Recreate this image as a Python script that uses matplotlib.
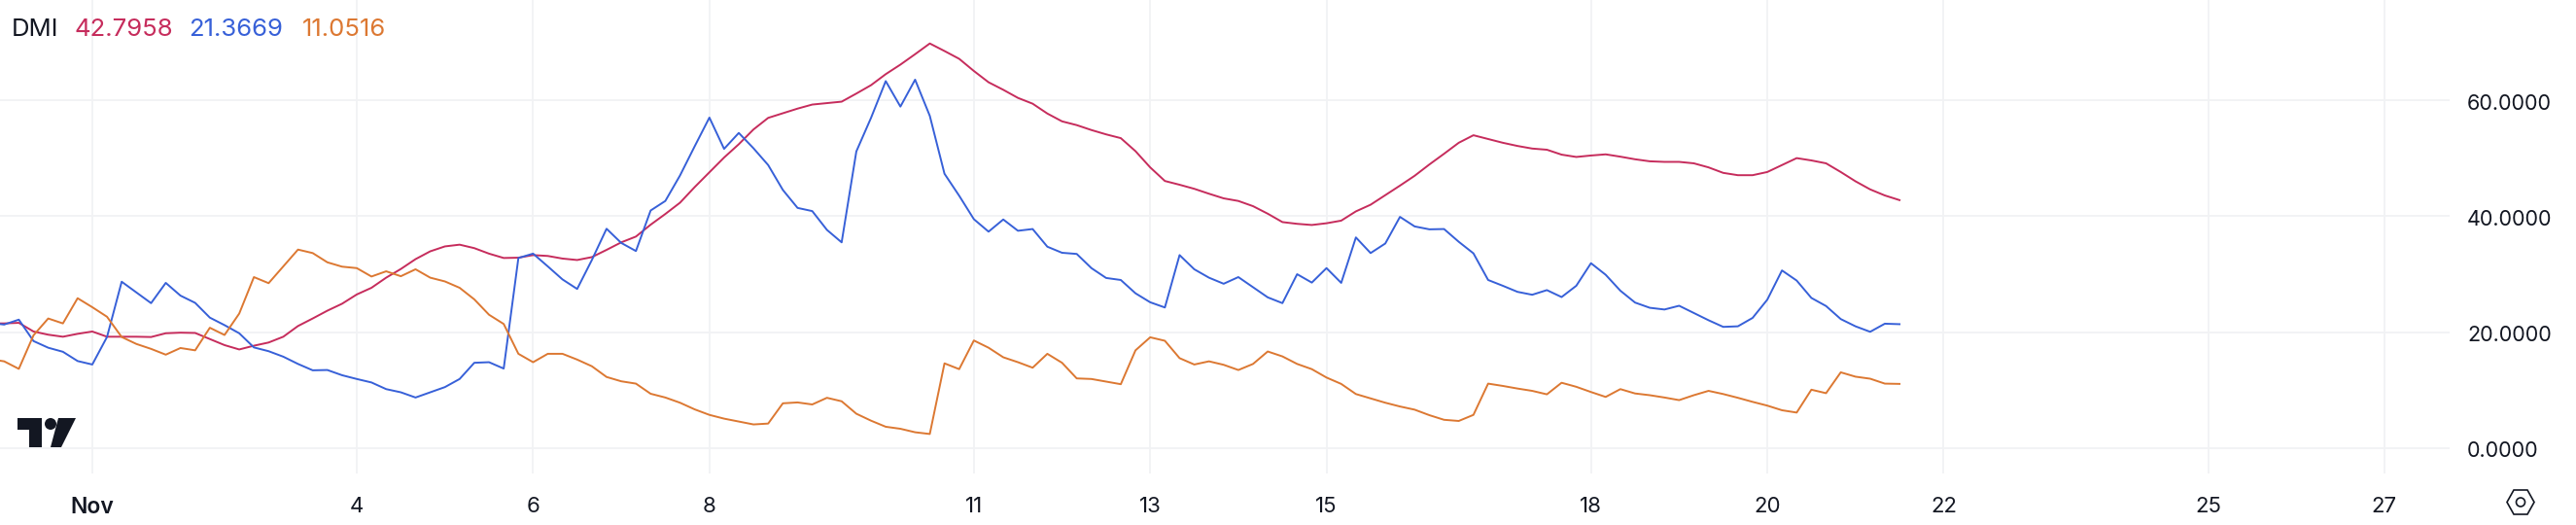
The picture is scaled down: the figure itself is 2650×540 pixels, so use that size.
import numpy as np
import matplotlib
matplotlib.use('Agg')
import matplotlib.pyplot as plt
from matplotlib.patches import Polygon, Ellipse
from matplotlib.transforms import ScaledTranslation

plt.rcParams['font.family'] = ['Inter', 'DejaVu Sans']

# DMI values, one every 4 hours, first point just off the left edge
adx = [21.5, 21.5, 21.6, 20.1, 19.55, 19.2, 19.7, 20.1, 19.2, 19.2, 19.2, 19.15, 19.8, 19.9, 19.85, 18.8, 17.75, 17.0,
       17.65, 18.2, 19.2, 21.05, 22.35, 23.7, 24.9, 26.5, 27.65, 29.4, 30.9, 32.6, 33.95, 34.8, 35.1, 34.5, 33.55, 32.8,
       32.85, 33.3, 33.15, 32.7, 32.45, 32.95, 34.2, 35.5, 36.5, 38.55, 40.4, 42.35, 45.05, 47.6, 50.15, 52.45, 55.0, 57.0,
       57.8, 58.6, 59.3, 59.55, 59.8, 61.2, 62.65, 64.55, 66.2, 68.0, 69.85, 68.55, 67.2, 65.1, 63.15, 61.85, 60.45, 59.45,
       57.75, 56.4, 55.75, 54.9, 54.15, 53.5, 51.25, 48.45, 46.1, 45.45, 44.75, 43.9, 43.1, 42.65, 41.75, 40.45, 39.0, 38.7,
       38.5, 38.8, 39.25, 40.85, 42.0, 43.65, 45.3, 47.0, 48.95, 50.8, 52.7, 54.0, 53.35, 52.7, 52.15, 51.7, 51.5, 50.65,
       50.25, 50.5, 50.7, 50.3, 49.85, 49.5, 49.4, 49.4, 49.15, 48.45, 47.5, 47.1, 47.1, 47.65, 48.85, 50.05, 49.65, 49.15,
       47.65, 46.05, 44.65, 43.6, 42.7958]
plus_di = [21.6, 21.3, 22.15, 18.45, 17.3, 16.6, 15.0, 14.4, 19.15, 28.7, 26.85, 25.0, 28.5, 26.3, 25.05, 22.5, 21.2, 19.8,
           17.35, 16.7, 15.75, 14.5, 13.4, 13.45, 12.55, 11.9, 11.3, 10.15, 9.6, 8.7, 9.6, 10.5, 11.9, 14.7, 14.8, 13.7,
           32.8, 33.55, 31.35, 29.1, 27.45, 32.45, 37.85, 35.4, 34.0, 41.0, 42.65, 47.05, 52.1, 57.05, 51.65, 54.4, 51.75, 48.85,
           44.55, 41.45, 40.9, 37.65, 35.5, 51.2, 57.0, 63.35, 58.95, 63.6, 57.35, 47.35, 43.55, 39.5, 37.35, 39.45, 37.5, 37.8,
           34.75, 33.7, 33.5, 31.05, 29.35, 29.0, 26.7, 25.15, 24.25, 33.3, 30.85, 29.4, 28.35, 29.5, 27.75, 26.0, 25.0, 30.0,
           28.55, 31.05, 28.5, 36.35, 33.65, 35.3, 39.9, 38.25, 37.75, 37.8, 35.6, 33.6, 29.0, 28.0, 26.95, 26.45, 27.25, 26.05,
           28.0, 31.9, 29.9, 27.15, 25.1, 24.2, 23.9, 24.55, 23.3, 22.05, 20.9, 21.0, 22.45, 25.6, 30.65, 28.9, 25.9, 24.5,
           22.25, 21.0, 20.05, 21.45, 21.3669]
minus_di = [15.35, 14.95, 13.65, 19.45, 22.35, 21.5, 25.85, 24.3, 22.65, 19.15, 17.95, 17.1, 16.1, 17.25, 16.85, 20.75, 19.5, 23.2,
            29.5, 28.45, 31.35, 34.25, 33.65, 32.05, 31.3, 31.05, 29.6, 30.5, 29.65, 30.85, 29.4, 28.75, 27.65, 25.65, 23.0, 21.4,
            16.25, 14.8, 16.25, 16.25, 15.25, 14.1, 12.25, 11.5, 11.1, 9.35, 8.7, 7.8, 6.65, 5.7, 5.05, 4.55, 4.05, 4.2,
            7.7, 7.85, 7.5, 8.65, 8.05, 5.9, 4.7, 3.65, 3.3, 2.7, 2.4, 14.6, 13.6, 18.55, 17.3, 15.65, 14.8, 13.85,
            16.25, 14.7, 12.0, 11.9, 11.45, 11.0, 16.85, 19.1, 18.5, 15.5, 14.4, 14.95, 14.35, 13.45, 14.5, 16.65, 15.8, 14.5,
            13.6, 12.15, 11.05, 9.3, 8.55, 7.8, 7.15, 6.6, 5.65, 4.85, 4.65, 5.7, 11.1, 10.7, 10.25, 9.85, 9.25, 11.25,
            10.55, 9.65, 8.8, 10.15, 9.4, 9.1, 8.7, 8.25, 9.1, 9.85, 9.3, 8.65, 7.95, 7.3, 6.5, 6.1, 10.05, 9.45,
            13.05, 12.3, 11.95, 11.1, 11.0516]

day_ticks = [1, 4, 6, 8, 11, 13, 15, 18, 20, 22, 25, 27]
day_labels = ['Nov', '4', '6', '8', '11', '13', '15', '18', '20', '22', '25', '27']
value_ticks = [0, 20, 40, 60]
legend_labels = ['42.7958', '21.3669', '11.0516']

RED = '#C62C5C'
BLUE = '#3760D8'
ORANGE = '#DC7832'
INK = '#131722'
GRID = '#F1F2F4'

W, H = 2650, 540

fig = plt.figure(figsize=(W / 100, H / 100), dpi=100)
ax = fig.add_axes([0, (H - 487) / H, 2520 / W, 487 / H])

def px(x, y):
    # picture pixels (origin top left) to figure fractions
    return (x / W, 1 - y / H)

days = np.arange(len(adx)) / 6 - 1 / 6
ax.plot(days, adx, color=RED, lw=1.4, zorder=3, solid_joinstyle='round')
ax.plot(days, plus_di, color=BLUE, lw=1.4, zorder=4, solid_joinstyle='round')
ax.plot(days, minus_di, color=ORANGE, lw=1.4, zorder=5, solid_joinstyle='round')

ax.set_xlim(-0.047, 27.74)
ax.set_ylim(-4.42, 77.36)

ax.set_xticks(day_ticks)
ax.set_xticklabels(day_labels, fontsize=16, color=INK)
ax.get_xticklabels()[0].set_fontweight('semibold')
ax.get_xticklabels()[0].set_fontsize(16.5)
ax.set_yticks(value_ticks)
ax.set_yticklabels([f'{v:.4f}' for v in value_ticks], fontsize=15.5, color=INK)
ax.yaxis.tick_right()
ax.tick_params(axis='x', length=0, pad=17)
ax.tick_params(axis='y', length=0, pad=13)
ax.grid(True, color=GRID, lw=1.3, zorder=0)
ax.set_axisbelow(True)
for s in ax.spines.values():
    s.set_visible(False)
nudge = ScaledTranslation(0, -1.0 / 72, fig.dpi_scale_trans)
for lab in ax.get_yticklabels(which='major'):
    lab.set_transform(lab.get_transform() + nudge)

# legend row
fig.text(*px(12, 37), 'DMI', fontsize=18.5, color=INK, va='baseline')
for x, label, col in zip([76, 194, 311], legend_labels, [RED, BLUE, ORANGE]):
    fig.text(*px(x, 37), label, fontsize=18.5, color=col, va='baseline')

# TradingView logo
logo = '#131722'
fig.add_artist(Polygon([px(18, 430), px(42.5, 430), px(42.5, 460), px(30, 460), px(30, 442), px(18, 442)],
                       closed=True, fc=logo, ec='none', transform=fig.transFigure))
cx, cy = px(52, 436)
fig.add_artist(Ellipse((cx, cy), 12 / W, 12 / H, fc=logo, ec='none', transform=fig.transFigure))
fig.add_artist(Polygon([px(60, 430), px(78, 430), px(63, 460), px(52, 460)],
                       closed=True, fc=logo, ec='none', transform=fig.transFigure))

# settings icon
hx, hy = 2593, 516.5
fig.add_artist(Polygon([px(hx - 14, hy), px(hx - 7, hy - 12.5), px(hx + 7, hy - 12.5),
                        px(hx + 14, hy), px(hx + 7, hy + 12.5), px(hx - 7, hy + 12.5)],
                       closed=True, fc='none', ec=INK, lw=1.2, transform=fig.transFigure))
cx, cy = px(hx, hy)
fig.add_artist(Ellipse((cx, cy), 9 / W, 9 / H, fc='none', ec=INK, lw=1.2, transform=fig.transFigure))

fig.savefig('out.png', dpi=100)
